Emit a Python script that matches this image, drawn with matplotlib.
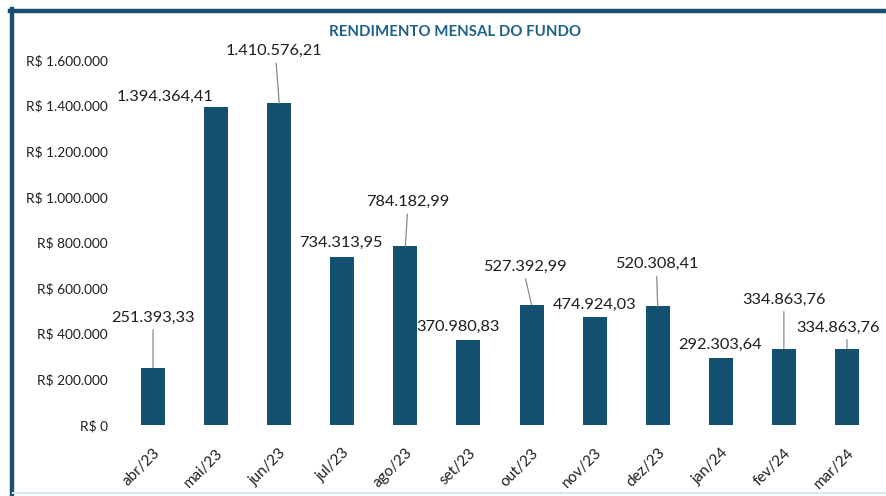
import matplotlib
matplotlib.use('Agg')
import matplotlib.pyplot as plt
from matplotlib.lines import Line2D
from matplotlib.ticker import FuncFormatter

# --- Data ---
months = ['abr/23', 'mai/23', 'jun/23', 'jul/23', 'ago/23', 'set/23',
          'out/23', 'nov/23', 'dez/23', 'jan/24', 'fev/24', 'mar/24']
rendimento = [251393.33, 1394364.41, 1410576.21, 734313.95, 784182.99, 370980.83,
              527392.99, 474924.03, 520308.41, 292303.64, 334863.76, 334863.76]
y_ticks = [0, 200000, 400000, 600000, 800000, 1000000, 1200000, 1400000, 1600000]

# label offsets (px from bar top) and whether a leader line is drawn
label_dx = [0, -51, -5, -1, 2, -10, -7, 0, -1, -1, 0, -9]
label_dy = [50, 10, 52, 15, 44, 13, 38, 12, 42, 13, 49, 21]
line_dx = [0, 0, -3, 0, 2, 0, -6, 0, -1, 0, 0, 0]
leader = [True, False, True, False, True, False, True, False, True, False, True, True]

COLOR_BAR = '#14506f'
COLOR_BORDER = '#1b4f6e'
COLOR_TITLE = '#1d6188'
COLOR_TEXT = '#1e1e1e'
COLOR_LEADER = '#8a8a8a'

plt.rcParams['font.family'] = ['Lato', 'DejaVu Sans']

W, H = 886, 496
fig = plt.figure(figsize=(W / 100, H / 100), dpi=100)
fig.patch.set_facecolor('white')

ax = fig.add_axes([121.5 / W, 71 / H, 757 / W, 365 / H])
ax.set_facecolor('white')

x = list(range(len(months)))
ax.bar(x, rendimento, width=0.38, color=COLOR_BAR, zorder=2)

ax.set_xlim(-0.5, len(months) - 0.5)
ax.set_ylim(0, 1600000)
ax.set_yticks(y_ticks)
ax.yaxis.set_major_formatter(
    FuncFormatter(lambda v, _: 'R$ ' + f'{v:,.0f}'.replace(',', '.'))
)
ax.set_xticks(x)
ax.set_xticklabels(months, rotation=45, ha='right', rotation_mode='anchor')

ax.tick_params(axis='both', length=0, colors=COLOR_TEXT)
ax.tick_params(axis='y', labelsize=9.8, pad=10)
ax.tick_params(axis='x', labelsize=11, pad=15)
for spine in ax.spines.values():
    spine.set_visible(False)

# --- Value labels ---
px = 0.72  # points per pixel at 100 dpi
for i, v in enumerate(rendimento):
    txt = f'{v:,.2f}'.replace(',', 'X').replace('.', ',').replace('X', '.')
    ax.annotate(txt, xy=(i, v), xytext=(label_dx[i] * px, label_dy[i] * px),
                textcoords='offset points', ha='center', va='center',
                fontsize=11.8, color=COLOR_TEXT, annotation_clip=False, zorder=4)
    if leader[i]:
        ax.annotate('', xy=(i, v), xytext=(line_dx[i] * px, (label_dy[i] - 12) * px),
                    textcoords='offset points', annotation_clip=False,
                    arrowprops=dict(arrowstyle='-', color=COLOR_LEADER, lw=0.9,
                                    shrinkA=0, shrinkB=0), zorder=3)

# --- Title ---
fig.text(455 / W, 1 - 32 / H, 'RENDIMENTO MENSAL DO FUNDO', ha='center', va='center',
         fontsize=10.8, fontweight='bold', color=COLOR_TITLE)

# --- Frame lines (page border) ---
fig.add_artist(Line2D([10 / W, 1], [1 - 10.5 / H, 1 - 10.5 / H], color=COLOR_BORDER,
                      lw=3.2, transform=fig.transFigure))
fig.add_artist(Line2D([11.5 / W, 11.5 / W], [0, 1 - 9 / H], color=COLOR_BORDER,
                      lw=3.2, transform=fig.transFigure))
fig.add_artist(Line2D([13 / W, 1], [3 / H, 3 / H], color='#d4e9f0',
                      lw=1.5, transform=fig.transFigure))

fig.savefig('out.png', dpi=100, facecolor='white')
